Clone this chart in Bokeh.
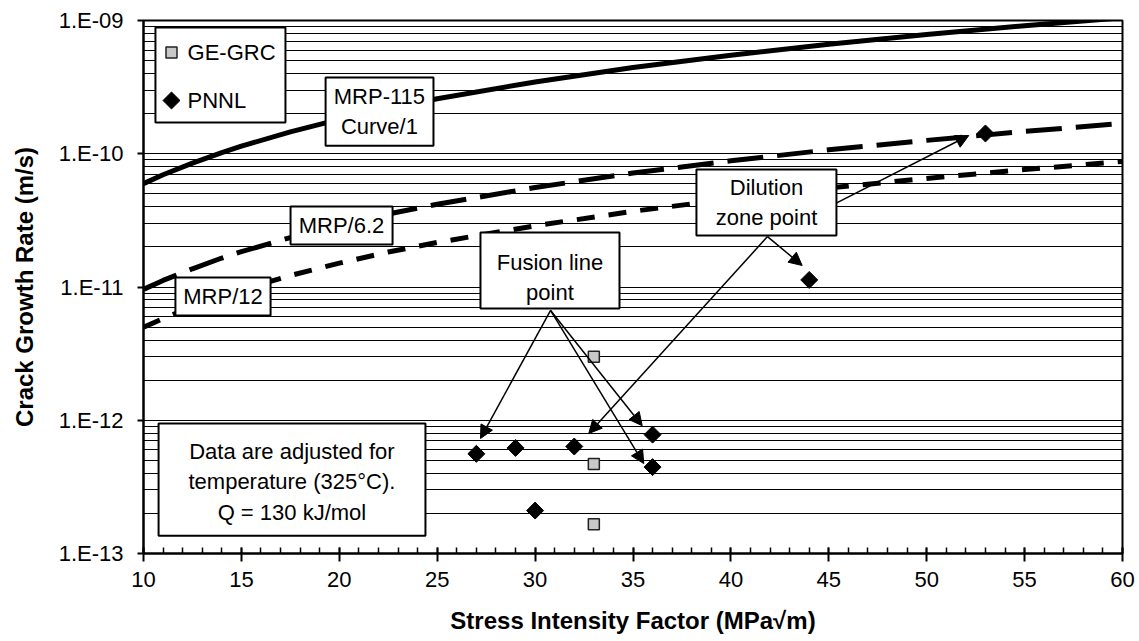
import numpy as np
from bokeh.plotting import figure
from bokeh.models import (Range1d, CustomJSTickFormatter, Label,
                          Arrow, NormalHead, SingleIntervalTicker, LogTicker)
from bokeh.embed import file_html
from bokeh.resources import INLINE

# ---------------- data ----------------
K_curve = [10, 11, 12.5, 14, 15, 17.5, 20, 22.5, 25, 30, 35, 40, 45, 50, 55, 60]
mrp115 = [5.97e-11, 6.96e-11, 8.5e-11, 1.02e-10, 1.14e-10, 1.46e-10, 1.81e-10, 2.19e-10,
          2.59e-10, 3.46e-10, 4.44e-10, 5.49e-10, 6.63e-10, 7.84e-10, 9.13e-10, 1.05e-9]
mrp62 = [9.6e-12, 1.12e-11, 1.37e-11, 1.65e-11, 1.84e-11, 2.35e-11, 2.92e-11, 3.53e-11,
         4.18e-11, 5.58e-11, 7.16e-11, 8.85e-11, 1.07e-10, 1.26e-10, 1.47e-10, 1.69e-10]
mrp12 = [4.98e-12, 5.8e-12, 7.1e-12, 8.5e-12, 9.5e-12, 1.22e-11, 1.51e-11, 1.83e-11,
         2.16e-11, 2.88e-11, 3.7e-11, 4.58e-11, 5.53e-11, 6.53e-11, 7.61e-11, 8.75e-11]

pnnl_K = [27, 29, 30, 32, 36, 36, 44, 53]
pnnl_rate = [5.6e-13, 6.2e-13, 2.1e-13, 6.35e-13, 7.8e-13, 4.45e-13, 1.13e-11, 1.42e-10]

ge_K = [33, 33, 33]
ge_rate = [3.0e-12, 4.7e-13, 1.66e-13]

series_names = ["GE-GRC", "PNNL"]

x_range = (10, 60)
y_range = (1e-13, 1e-9)

# annotation boxes: (left K, right K, top rate, bottom rate)
boxes = {
    "legend": (10.61, 17.25, 8.86e-10, 1.716e-10),
    "mrp115": (19.3, 24.81, 3.73e-10, 1.15e-10),
    "mrp62": (17.51, 22.72, 4.02e-11, 2.08e-11),
    "mrp12": (11.63, 16.49, 1.18e-11, 6.11e-12),
    "note": (10.77, 24.40, 9.46e-13, 1.36e-13),
    "fusion": (27.21, 34.31, 2.56e-11, 6.9e-12),
    "dilution": (38.24, 45.39, 7.62e-11, 2.44e-11),
}
# legend entry positions: (icon K, text K, rate)
legend_pos = [(11.43, 12.25, 5.75e-10), (11.43, 12.25, 2.51e-10)]

labels = [
    (22.05, 2.07e-10, "MRP-115\nCurve/1"),
    (20.11, 2.90e-11, "MRP/6.2"),
    (14.06, 8.49e-12, "MRP/12"),
    (17.58, 3.47e-13, "Data are adjusted for\ntemperature (325\u00b0C).\nQ = 130 kJ/mol"),
    (30.76, 1.18e-11, "Fusion line\npoint"),
    (41.82, 4.31e-11, "Dilution\nzone point"),
]
arrows = [
    (30.79, 6.67e-12, 27.21, 7.3e-13),
    (30.79, 6.67e-12, 35.47, 9.1e-13),
    (30.79, 6.67e-12, 35.55, 4.73e-13),
    (41.87, 2.39e-11, 43.64, 1.45e-11),
    (41.87, 2.39e-11, 32.74, 7.96e-13),
    (45.38, 4.26e-11, 52.15, 1.37e-10),
]

FONT = "Liberation Sans"

p = figure(width=1136, height=636, x_range=Range1d(*x_range), y_range=Range1d(*y_range),
           y_axis_type="log", output_backend="svg", toolbar_location=None,
           min_border_left=143, min_border_top=20, min_border_right=14, min_border_bottom=83)
p.background_fill_color = "white"
p.border_fill_color = "white"
p.outline_line_color = "black"
p.outline_line_width = 2

# grids
p.xgrid.grid_line_color = None
p.ygrid.grid_line_color = "black"
p.ygrid.grid_line_width = 1
p.ygrid.minor_grid_line_color = "black"
p.ygrid.minor_grid_line_width = 1

# axes
p.xaxis.ticker = SingleIntervalTicker(interval=5, num_minor_ticks=5)
p.yaxis.ticker = LogTicker(num_minor_ticks=10)
p.yaxis.formatter = CustomJSTickFormatter(code="""
const e = Math.round(Math.log10(tick));
const a = Math.abs(e);
return '1.E' + (e < 0 ? '-' : '+') + (a < 10 ? '0' : '') + a;
""")
for ax in (p.xaxis[0], p.yaxis[0]):
    ax.axis_line_color = "black"
    ax.axis_line_width = 2
    ax.major_tick_line_color = "black"
    ax.major_tick_line_width = 2
    ax.minor_tick_line_width = 1.5
    ax.major_label_text_font = FONT
    ax.major_label_text_font_size = "22px"
    ax.major_label_text_color = "black"
    ax.axis_label_text_font = FONT
    ax.axis_label_text_font_size = "24px"
    ax.axis_label_text_font_style = "bold"
    ax.axis_label_text_color = "black"

p.xaxis.major_tick_in = 6
p.xaxis.major_tick_out = 8
p.xaxis.minor_tick_in = 6
p.xaxis.minor_tick_out = 0
p.xaxis.minor_tick_line_color = "black"
p.xaxis.major_label_standoff = 10
p.xaxis.axis_label = "Stress Intensity Factor (MPa\u221am)"
p.xaxis.axis_label_standoff = 17

p.yaxis.major_tick_in = 0
p.yaxis.major_tick_out = 6
p.yaxis.minor_tick_line_color = None
p.yaxis.major_label_standoff = 14
p.yaxis.axis_label = "Crack Growth Rate (m/s)"
p.yaxis.axis_label_standoff = 18

# curves
p.line(K_curve, mrp115, line_color="black", line_width=5)
p.line(K_curve, mrp62, line_color="black", line_width=5, line_dash="36 14")
p.line(K_curve, mrp12, line_color="black", line_width=5, line_dash="18 14")

# boxes (legend frame and text boxes)
bl = [b[0] for b in boxes.values()]
br = [b[1] for b in boxes.values()]
bt = [b[2] for b in boxes.values()]
bb = [b[3] for b in boxes.values()]
p.quad(left=bl, right=br, top=bt, bottom=bb, fill_color="white", line_color="black", line_width=2)

GE_STYLE = dict(marker="square", size=11, fill_color="#c8c8c8", line_color="#222222", line_width=1.5)
PN_STYLE = dict(marker="square", angle=np.pi / 4, size=12, fill_color="black", line_color="black")

# data points
p.scatter(ge_K, ge_rate, **GE_STYLE)
p.scatter(pnnl_K, pnnl_rate, **PN_STYLE)

# legend (manual so that the diamond keeps its orientation)
p.scatter([legend_pos[0][0]], [legend_pos[0][2]], **GE_STYLE)
p.scatter([legend_pos[1][0]], [legend_pos[1][2]], **PN_STYLE)
for (ix, tx, ty), name in zip(legend_pos, series_names):
    p.add_layout(Label(x=tx, y=ty, text=name, text_align="left", text_baseline="middle",
                       text_font=FONT, text_font_size="22px", text_color="black"))

for (x0, y0, x1, y1) in arrows:
    p.add_layout(Arrow(x_start=x0, y_start=y0, x_end=x1, y_end=y1, line_width=1.5,
                       line_color="black",
                       end=NormalHead(size=13, fill_color="black", line_color="black")))

for (x, y, t) in labels:
    p.add_layout(Label(x=x, y=y, text=t, text_align="center", text_baseline="middle",
                       text_font=FONT, text_font_size="22px", text_color="black",
                       text_line_height=1.22))

open("out.html", "w").write(file_html(p, INLINE))
